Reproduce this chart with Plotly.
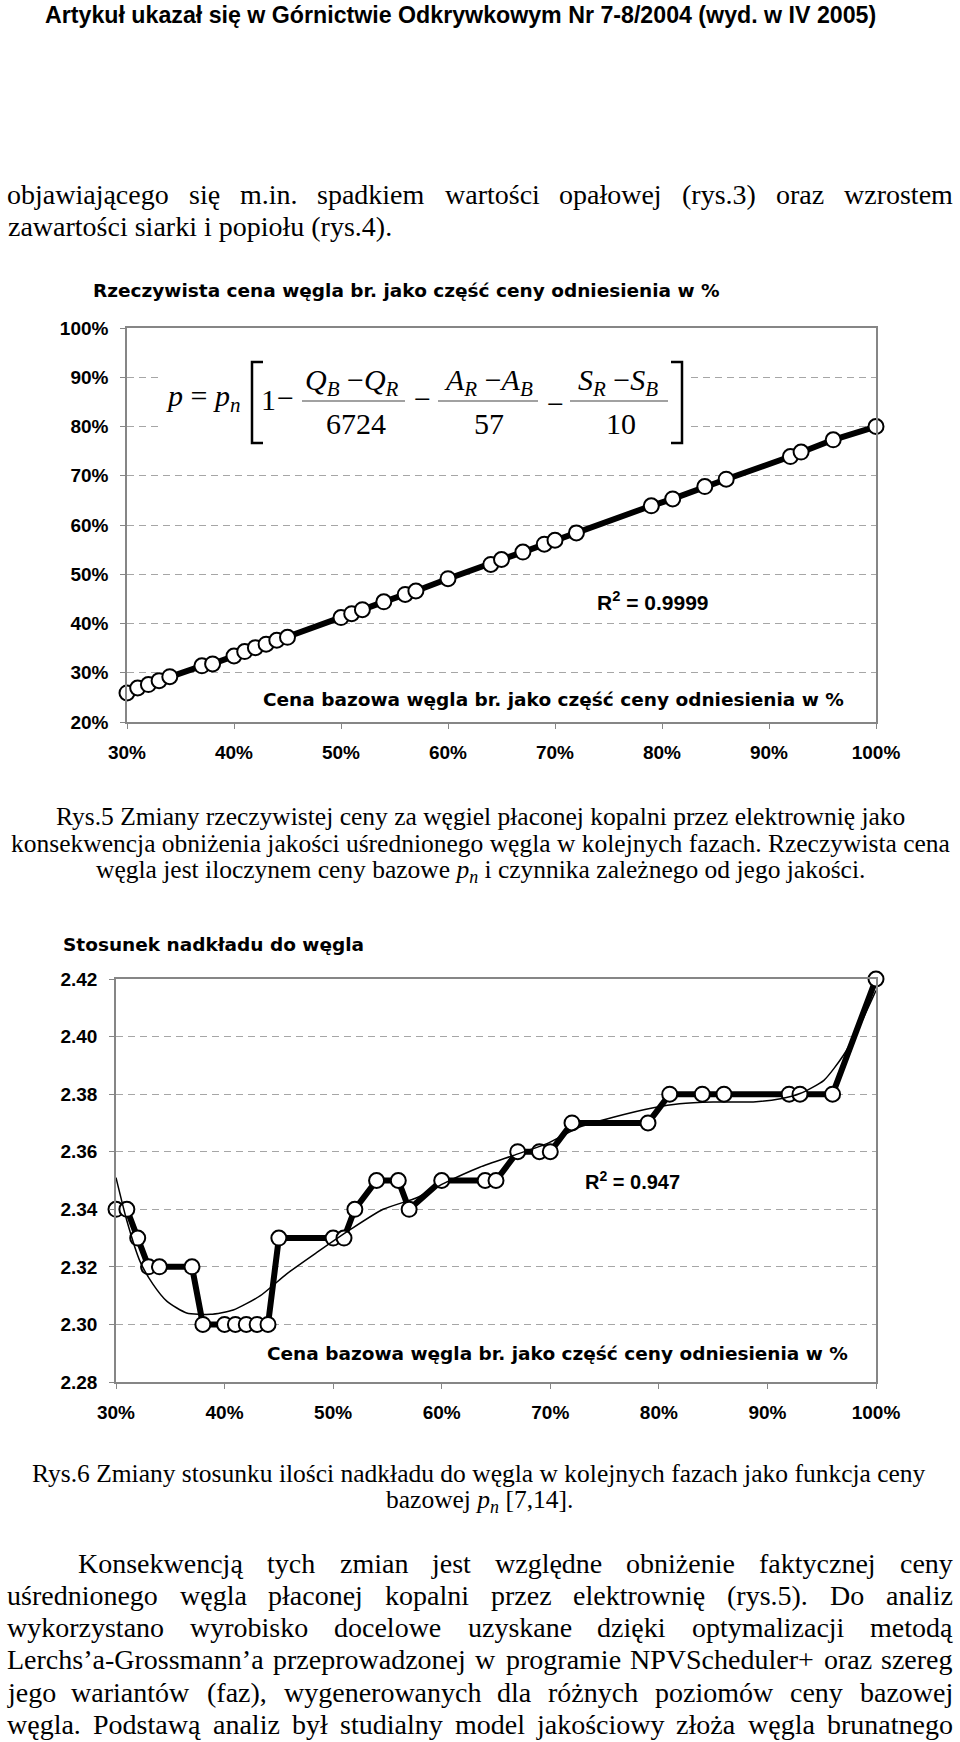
import plotly.graph_objects as go

W, H = 960, 1742

# ---------------- data ----------------
base_price_pct = [30, 31, 32, 33, 34, 37, 38, 40, 41, 42, 43, 44, 45, 50, 51, 52, 54, 56, 57,
                  60, 64, 65, 67, 69, 70, 72, 79, 81, 84, 86, 92, 93, 96, 100]
real_price_pct = [25.9, 26.9, 27.6, 28.4, 29.2, 31.4, 31.8, 33.4, 34.3, 35.1, 35.8, 36.6, 37.2,
                  41.2, 42.0, 42.8, 44.4, 45.9, 46.6, 49.1, 52.0, 53.0, 54.5, 56.1, 56.9, 58.4,
                  63.9, 65.3, 67.8, 69.3, 73.9, 74.8, 77.3, 80.0]
stripping_ratio = [2.34, 2.34, 2.33, 2.32, 2.32, 2.32, 2.30, 2.30, 2.30, 2.30, 2.30, 2.30, 2.33,
                   2.33, 2.33, 2.34, 2.35, 2.35, 2.34, 2.35, 2.35, 2.35, 2.36, 2.36, 2.36, 2.37,
                   2.37, 2.38, 2.38, 2.38, 2.38, 2.38, 2.38, 2.42]
trend_x_pct = [30.0, 31.0, 32.2, 33.4, 34.7, 36.5, 38.7, 40.8, 43.3, 45.7, 48.5, 51.6, 54.6, 57.7,
               60.2, 63.5, 66.6, 69.7, 72.7, 75.8, 79.5, 81.9, 85.0, 88.7, 91.2, 93.0, 95.2, 97.0,
               98.6, 100.0]
trend_ratio = [2.351, 2.336, 2.322, 2.314, 2.308, 2.304, 2.3035, 2.305, 2.310, 2.3175, 2.325,
               2.333, 2.340, 2.344, 2.349, 2.3546, 2.3587, 2.3628, 2.3686, 2.372, 2.3753, 2.3767,
               2.3773, 2.3773, 2.3784, 2.3802, 2.3848, 2.3935, 2.4046, 2.416]
x_ticks_pct = [30, 40, 50, 60, 70, 80, 90, 100]
y1_ticks_pct = [20, 30, 40, 50, 60, 70, 80, 90, 100]
y2_ticks = [2.28, 2.30, 2.32, 2.34, 2.36, 2.38, 2.40, 2.42]

# ---------------- helpers ----------------
def px(x):
    return x / W


def py(y):
    return 1 - y / H


SERIF = "Liberation Serif, Times New Roman, serif"
ARIAL = "Liberation Sans, Arial, sans-serif"
WIDE = "DejaVu Sans, Verdana, sans-serif"

TW = {' ': 250, '!': 333, '%': 833, '(': 333, ')': 333, '+': 564, ',': 250, '-': 333, '.': 250,
      '/': 278, ':': 278, ';': 278, '[': 333, ']': 333, '’': 333,
      'A': 722, 'B': 667, 'C': 667, 'D': 722, 'E': 611, 'F': 556, 'G': 722, 'H': 722, 'I': 333,
      'J': 389, 'K': 722, 'L': 611, 'M': 889, 'N': 722, 'O': 722, 'P': 556, 'Q': 722, 'R': 667,
      'S': 556, 'T': 611, 'U': 722, 'V': 722, 'W': 944, 'X': 722, 'Y': 722, 'Z': 611,
      'a': 444, 'b': 500, 'c': 444, 'd': 500, 'e': 444, 'f': 333, 'g': 500, 'h': 500, 'i': 278,
      'j': 278, 'k': 500, 'l': 278, 'm': 778, 'n': 500, 'o': 500, 'p': 500, 'q': 500, 'r': 333,
      's': 389, 't': 278, 'u': 500, 'v': 500, 'w': 722, 'x': 500, 'y': 500, 'z': 444,
      'ą': 444, 'ć': 444, 'ę': 444, 'ł': 278, 'ń': 500, 'ó': 500, 'ś': 389, 'ź': 444, 'ż': 444}


def tw(s, size):
    return sum(TW.get(c, 500) for c in s) * size / 1000.0


annotations = []
shapes = []


def text(t, x, y, size, family=SERIF, anchor='center', color='black', weight='normal'):
    annotations.append(dict(text=t, x=px(x), y=py(y), xref='paper', yref='paper',
                            xanchor=anchor, yanchor='middle', showarrow=False, borderpad=0,
                            font=dict(family=family, size=size, color=color, weight=weight)))


def justified(line, x0, x1, y, size):
    words = line.split(' ')
    ws = [tw(w, size) for w in words]
    gap = (x1 - x0 - sum(ws)) / (len(words) - 1)
    x = x0
    for w, wd in zip(words, ws):
        text(w, x + wd / 2, y, size)
        x += wd + gap


# ---------------- page text ----------------
text("Artykuł ukazał się w Górnictwie Odkrywkowym Nr 7-8/2004 (wyd. w IV 2005)",
     460, 15, 23.2, family=ARIAL, weight='bold')

justified("objawiającego się m.in. spadkiem wartości opałowej (rys.3) oraz wzrostem", 7, 953, 195, 28)
text("zawartości siarki i popiołu (rys.4).", 7, 226, 28, anchor='left')

cap1 = ["Rys.5 Zmiany rzeczywistej ceny za węgiel płaconej kopalni przez elektrownię jako",
        "konsekwencja obniżenia jakości uśrednionego węgla w kolejnych fazach. Rzeczywista cena",
        "węgla jest iloczynem ceny bazowe <i>p<sub>n</sub></i> i czynnika zależnego od jego jakości."]
for i, ln in enumerate(cap1):
    text(ln, 480, 816.5 + i * 27.2, 25.5)

cap2 = ["Rys.6 Zmiany stosunku ilości nadkładu do węgla w kolejnych fazach jako funkcja ceny",
        "bazowej <i>p<sub>n</sub></i> [7,14]."]
for i, ln in enumerate(cap2):
    text(ln, 479, 1473 + i * 27.5, 25.5)

para = ["Konsekwencją tych zmian jest względne obniżenie faktycznej ceny",
        "uśrednionego węgla płaconej kopalni przez elektrownię (rys.5). Do analiz",
        "wykorzystano wyrobisko docelowe uzyskane dzięki optymalizacji metodą",
        "Lerchs’a-Grossmann’a przeprowadzonej w programie NPVScheduler+ oraz szereg",
        "jego wariantów (faz), wygenerowanych dla różnych poziomów ceny bazowej",
        "węgla. Podstawą analiz był studialny model jakościowy złoża węgla brunatnego"]
for i, ln in enumerate(para):
    justified(ln, 78 if i == 0 else 7, 953, 1563 + i * 32.3, 28)

# ---------------- chart texts ----------------
text("Rzeczywista cena węgla br. jako część ceny odniesienia w %", 92, 290, 18.5,
     family=WIDE, anchor='left', weight='bold')
text("Stosunek nadkładu do węgla", 62, 945, 18.5, family=WIDE, anchor='left', weight='bold')
text("R<sup>2</sup> = 0.9999", 653, 601, 21, family=ARIAL, weight='bold')
text("R<sup>2</sup> = 0.947", 632, 1180, 20, family=ARIAL, weight='bold')
text("Cena bazowa węgla br. jako część ceny odniesienia w %", 553, 700, 18.5,
     family=WIDE, weight='bold')
text("Cena bazowa węgla br. jako część ceny odniesienia w %", 557, 1353, 18.5,
     family=WIDE, weight='bold')

# ---------------- formula ----------------
shapes.append(dict(type='rect', xref='paper', yref='paper', x0=px(160), x1=px(690),
                   y0=py(452), y1=py(352), fillcolor='white', line=dict(width=0), layer='above'))
FS = 30
text("<i>p</i> = <i>p</i><sub><i>n</i></sub>", 165, 398, FS, anchor='left')
text("1", 268, 400, FS)
text("−", 285, 397.5, FS)
text("<i>Q</i><sub><i>B</i></sub> −<i>Q</i><sub><i>R</i></sub>", 352, 382, FS)
text("6724", 356, 424, FS)
text("−", 422, 399, FS)
text("<i>A</i><sub><i>R</i></sub> −<i>A</i><sub><i>B</i></sub>", 488, 382, FS)
text("57", 489, 424, FS)
text("−", 555, 403, FS)
text("<i>S</i><sub><i>R</i></sub> −<i>S</i><sub><i>B</i></sub>", 618, 382, FS)
text("10", 621, 424, FS)
for a, b in [(302, 405), (438, 538), (570, 668)]:
    shapes.append(dict(type='line', xref='paper', yref='paper', x0=px(a), x1=px(b),
                       y0=py(401), y1=py(401), line=dict(color='#444444', width=1.2), layer='above'))
for xv, xs in [(252, 263), (682, 671)]:
    shapes.append(dict(type='path', xref='paper', yref='paper', layer='above',
                       path=f"M {px(xs)} {py(362)} L {px(xv)} {py(362)} L {px(xv)} {py(443)} L {px(xs)} {py(443)}",
                       line=dict(color='black', width=2.5)))

# ---------------- traces ----------------
fig = go.Figure()
marker = dict(symbol='circle', size=15, color='white', line=dict(color='black', width=2))
fig.add_trace(go.Scatter(x=[v / 100 for v in base_price_pct], y=[v / 100 for v in real_price_pct],
                         mode='lines+markers', line=dict(color='black', width=6), marker=marker,
                         cliponaxis=False, hoverinfo='skip', xaxis='x', yaxis='y'))
fig.add_trace(go.Scatter(x=[v / 100 for v in base_price_pct], y=stripping_ratio,
                         mode='lines+markers', line=dict(color='black', width=6), marker=marker,
                         cliponaxis=False, hoverinfo='skip', xaxis='x2', yaxis='y2'))
fig.add_trace(go.Scatter(x=[v / 100 for v in trend_x_pct], y=trend_ratio, mode='lines',
                         line=dict(color='black', width=1.5, shape='spline', smoothing=0.6),
                         hoverinfo='skip', xaxis='x2', yaxis='y2'))

tickfont = dict(family=ARIAL, size=19, color='black', weight='bold')
common = dict(showline=True, linecolor='#868686', linewidth=1.5, mirror=True, ticks='outside',
              ticklen=5, tickcolor='#868686', zeroline=False, tickfont=tickfont, fixedrange=True,
              automargin=False)
ygrid = dict(showgrid=True, gridcolor='#a6a6a6', gridwidth=1, griddash='7px,5px')

fig.update_layout(
    width=W, height=H, margin=dict(l=0, r=0, t=0, b=0, pad=0, autoexpand=False),
    paper_bgcolor='white', plot_bgcolor='white', showlegend=False,
    xaxis=dict(domain=[px(127), px(876)], range=[0.3, 1.0], anchor='y', showgrid=False,
               tickvals=[v / 100 for v in x_ticks_pct], tickformat='.0%', ticklabelstandoff=7, **common),
    yaxis=dict(domain=[py(722), py(328)], range=[0.2, 1.0], anchor='x',
               tickvals=[v / 100 for v in y1_ticks_pct], tickformat='.0%', ticklabelstandoff=8,
               **ygrid, **common),
    xaxis2=dict(domain=[px(116), px(876)], range=[0.3, 1.0], anchor='y2', showgrid=False,
                tickvals=[v / 100 for v in x_ticks_pct], tickformat='.0%', ticklabelstandoff=7, **common),
    yaxis2=dict(domain=[py(1382), py(979)], range=[2.28, 2.42], anchor='x2',
                tickvals=y2_ticks, tickformat='.2f', ticklabelstandoff=8, **ygrid, **common),
    annotations=annotations, shapes=shapes,
)

fig.write_html("out.html")
